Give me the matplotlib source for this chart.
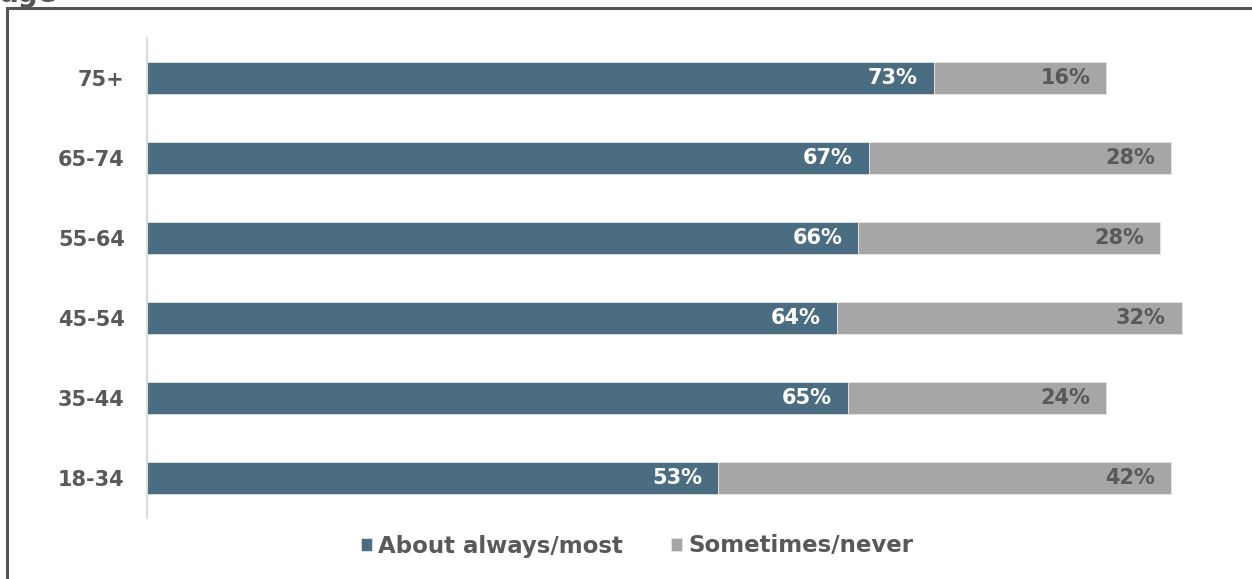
import matplotlib
matplotlib.use("Agg")
import matplotlib.pyplot as plt
from matplotlib.patches import Rectangle

# Share of respondents by age group
age_groups = ["75+", "65-74", "55-64", "45-54", "35-44", "18-34"]
always_most = [73, 67, 66, 64, 65, 53]
sometimes_never = [16, 28, 28, 32, 24, 42]
series_names = ["About always/most", "Sometimes/never"]

BLUE = "#4b6d81"
GREY = "#a6a6a6"
TEXT = "#58595b"
FONT = ["DejaVu Sans"]

W, H = 1252, 579
fig = plt.figure(figsize=(W / 100, H / 100), dpi=100)
fig.patch.set_facecolor("white")

# Frame around the chart area (runs past the right and bottom edges)
fig.patches.append(Rectangle((7 / W, -0.05), 1.2, (H - 8) / H + 0.05,
                             transform=fig.transFigure, fill=False,
                             edgecolor="#555555", linewidth=2.2, zorder=0))
fig.text(0 / W, 1 - 2 / H, "age", fontsize=20, fontweight="bold",
         color="#555555", family=FONT, ha="left", va="baseline")

left, right = 147, 147 + 10.78 * 100
top, bottom = 38, 518
ax = fig.add_axes([left / W, 1 - bottom / H, (right - left) / W, (bottom - top) / H])
ax.set_xlim(0, 100)
ax.set_ylim(len(age_groups) - 0.5, -0.5)

ypos = list(range(len(age_groups)))
ax.barh(ypos, always_most, height=0.4, color=BLUE, edgecolor="#dfe6ea",
        linewidth=0.6, label=series_names[0])
ax.barh(ypos, sometimes_never, left=always_most, height=0.4, color=GREY,
        edgecolor="#e6e6e6", linewidth=0.6, label=series_names[1])

for y, a, s in zip(ypos, always_most, sometimes_never):
    ax.text(a - 1.5, y, f"{a}%", ha="right", va="center", color="white",
            fontsize=15, fontweight="bold", family=FONT)
    ax.text(a + s - 1.5, y, f"{s}%", ha="right", va="center", color=TEXT,
            fontsize=15, fontweight="bold", family=FONT)

ax.set_yticks(ypos)
ax.set_yticklabels(age_groups, fontsize=15, fontweight="bold", color=TEXT,
                   family=FONT)
ax.tick_params(axis="y", length=0, pad=16)
ax.set_xticks([])
for side in ["top", "right", "bottom"]:
    ax.spines[side].set_visible(False)
ax.spines["left"].set_color("#dcdcdc")
ax.spines["left"].set_linewidth(1.5)

leg = fig.legend(loc="center", bbox_to_anchor=(637 / W, 1 - 546 / H), ncol=2,
                 frameon=False, handlelength=0.5, handleheight=0.5,
                 handletextpad=0.25, columnspacing=2.1,
                 prop={"family": FONT, "weight": "bold", "size": 16.5})
for t in leg.get_texts():
    t.set_color(TEXT)

fig.savefig("out.png", dpi=100)
